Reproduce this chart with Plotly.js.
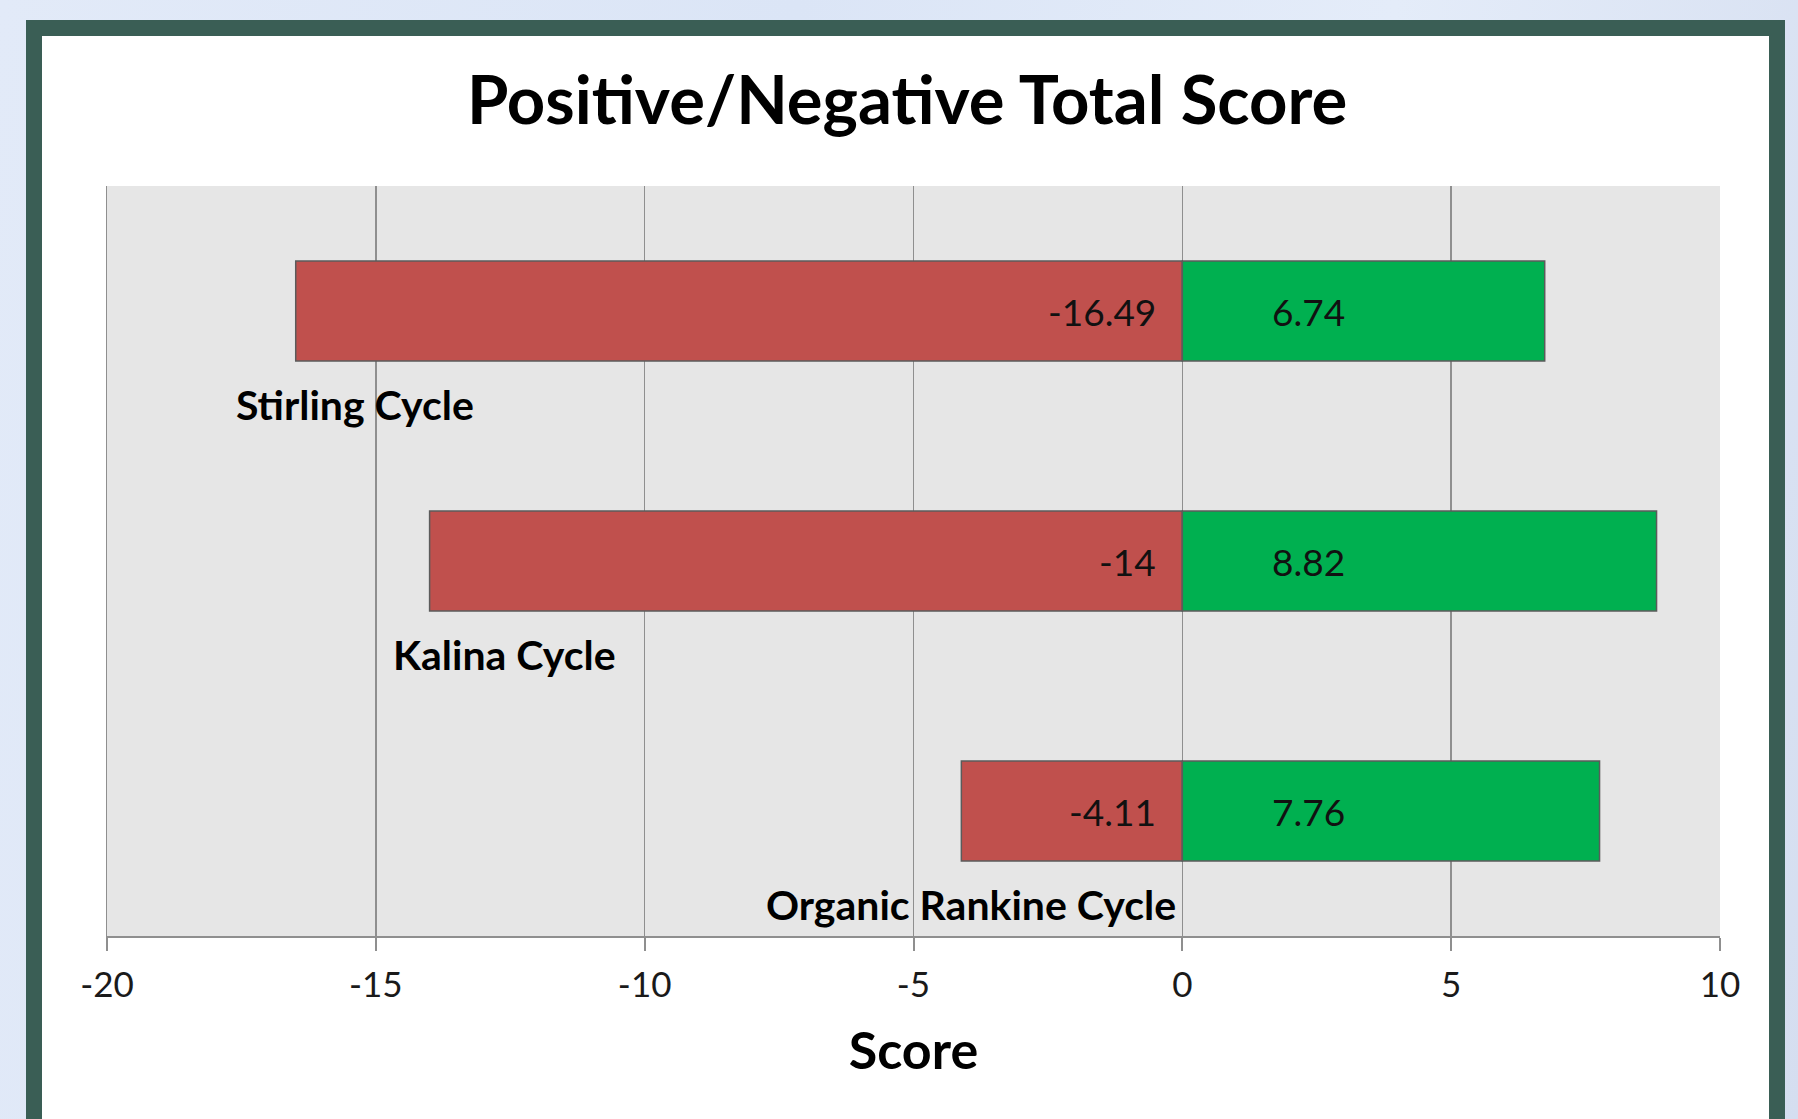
<!DOCTYPE html>
<html>
<head>
<meta charset="utf-8">
<script src="https://cdn.plot.ly/plotly-3.0.1.min.js"></script>
<style>
  html, body { margin: 0; padding: 0; width: 1798px; height: 1119px; overflow: hidden;
    background: linear-gradient(100deg, #e2eaf8 0%, #dbe5f6 40%, #e4ecf9 70%, #d5def0 100%); }
  #frame { position: absolute; left: 26px; top: 20px; width: 1727px; height: 1140px;
    border: 16px solid #3a5e55; background: #ffffff; }
  #chart { position: absolute; left: 0; top: 0; width: 1798px; height: 1119px; }
</style>
</head>
<body>
<div id="frame"></div>
<div id="chart"></div>
<script>
// ---- data ----
const categories = ['Stirling Cycle', 'Kalina Cycle', 'Organic Rankine Cycle'];
const negativeScores = [-16.49, -14, -4.11];
const positiveScores = [6.74, 8.82, 7.76];
const tickValues = [-20, -15, -10, -5, 0, 5, 10];
const tickLabels = ['-20', '-15', '-10', '-5', '0', '5', '10'];

// ---- layout config (label anchor positions in axis units) ----
const categoryLabelX = [-15.38, -12.6, -3.93];

const FONT = "Lato, 'Open Sans', sans-serif";
const barLine = { color: '#5b5b5b', width: 1.5 };

const traces = [
  { type: 'bar', orientation: 'h', y: categories, x: negativeScores,
    marker: { color: '#c0504d', line: barLine }, hoverinfo: 'x+y', name: 'Negative' },
  { type: 'bar', orientation: 'h', y: categories, x: positiveScores,
    marker: { color: '#00b050', line: barLine }, hoverinfo: 'x+y', name: 'Positive' }
];

const annotations = [];
categories.forEach((c, i) => {
  annotations.push({ x: 0, y: c, xref: 'x', yref: 'y', text: String(negativeScores[i]),
    showarrow: false, xanchor: 'right', yanchor: 'middle', xshift: -24,
    font: { family: FONT, size: 37, color: '#111' } });
  annotations.push({ x: 0, y: c, xref: 'x', yref: 'y', text: String(positiveScores[i]),
    showarrow: false, xanchor: 'left', yanchor: 'middle', xshift: 88,
    font: { family: FONT, size: 37, color: '#111' } });
  annotations.push({ x: categoryLabelX[i], y: c, xref: 'x', yref: 'y', text: c,
    showarrow: false, xanchor: 'center', yanchor: 'middle', yshift: -93,
    font: { family: FONT, size: 41, color: '#000', weight: 700 } });
});

const layout = {
  width: 1798, height: 1119,
  paper_bgcolor: 'rgba(0,0,0,0)',
  plot_bgcolor: '#e6e6e6',
  margin: { l: 107, r: 78, t: 186, b: 183, pad: 0 },
  showlegend: false,
  barmode: 'relative',
  bargap: 0.6,
  title: { text: 'Positive/Negative Total Score', x: 0.5045, xanchor: 'center',
    y: 1 - 101 / 1119, yanchor: 'middle', yref: 'container',
    font: { family: FONT, size: 67, color: '#000', weight: 700 } },
  xaxis: {
    range: [-20, 10], tickvals: tickValues, ticktext: tickLabels,
    showgrid: true, gridcolor: '#8f8f8f', gridwidth: 1.5,
    zeroline: false,
    showline: true, linecolor: '#8f8f8f', linewidth: 2,
    ticks: 'outside', ticklen: 13, tickwidth: 2, tickcolor: '#8f8f8f',
    ticklabelstandoff: 4,
    tickfont: { family: FONT, size: 35, color: '#1a1a1a' },
    title: { text: 'Score', standoff: 30, font: { family: FONT, size: 52, color: '#000', weight: 700 } },
    fixedrange: true
  },
  yaxis: {
    type: 'category', autorange: false, range: [2.5, -0.5],
    showticklabels: false, showgrid: false, zeroline: false,
    showline: true, linecolor: '#8f8f8f', linewidth: 1.5, mirror: false, ticks: '',
    fixedrange: true
  },
  annotations: annotations
};

Plotly.newPlot('chart', traces, layout, { displayModeBar: false, staticPlot: true });
</script>
</body>
</html>
